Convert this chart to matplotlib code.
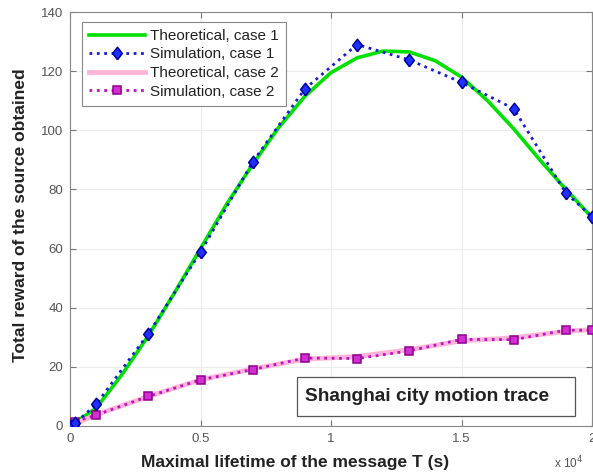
import matplotlib
matplotlib.use("Agg")
import matplotlib.pyplot as plt
from matplotlib.patches import Rectangle

plt.rcParams['font.family'] = ['Liberation Sans', 'DejaVu Sans']

# Data (x in units of 10^4 s)
x_theo1 = [0.0, 0.1, 0.2, 0.3, 0.4, 0.5, 0.6, 0.7, 0.8, 0.9, 1.0, 1.1, 1.2,
           1.3, 1.4, 1.5, 1.6, 1.7, 1.8, 1.9, 2.0]
y_theo1 = [0.0, 6.0, 17.5, 30.5, 45.0, 60.0, 75.0, 88.5, 101.0, 111.5, 119.5,
           124.5, 126.8, 126.5, 123.5, 118.0, 110.0, 100.5, 90.0, 80.0, 70.5]

x_sim = [0.0, 0.02, 0.1, 0.3, 0.5, 0.7, 0.9, 1.1, 1.3, 1.5, 1.7, 1.9, 2.0]
y_sim1 = [0.0, 1.0, 7.3, 31.2, 58.8, 89.3, 114.0, 129.0, 123.8, 116.2, 107.3, 78.8, 70.8]
y_sim2 = [0.0, 1.5, 3.7, 10.0, 15.6, 19.1, 23.0, 22.8, 25.4, 29.3, 29.2, 32.4, 32.4]

x_theo2 = [0.0, 0.1, 0.3, 0.5, 0.7, 0.9, 1.1, 1.3, 1.5, 1.7, 1.9, 2.0]
y_theo2 = [0.0, 3.8, 10.0, 15.6, 19.3, 22.6, 23.5, 25.8, 28.8, 29.8, 32.0, 32.6]

xticks = [0, 0.5, 1, 1.5, 2]
xticklabels = ['0', '0.5', '1', '1.5', '2']
yticks = [0, 20, 40, 60, 80, 100, 120, 140]

W, H = 593, 475
AX_L, AX_R, AX_T, AX_B = 70, 592, 12, 426
AW, AH = AX_R - AX_L, AX_B - AX_T
fig = plt.figure(figsize=(W / 100, H / 100), dpi=100)
ax = fig.add_axes([AX_L / W, (H - AX_B) / H, AW / W, AH / H])

diamond = [(0, -1), (0.78, 0), (0, 1), (-0.78, 0), (0, -1)]

ax.plot(x_theo1, y_theo1, color='#00e000', lw=2.6, label='Theoretical, case 1', zorder=2)
ax.plot(x_sim, y_sim1, color='#1a1ad0', lw=2.0, ls=':', marker=diamond, ms=9,
        mfc='#2030ff', mec='#0000a0', mew=1.1, label='Simulation, case 1', zorder=4)
ax.plot(x_theo2, y_theo2, color='#ffb4d8', lw=3.5, label='Theoretical, case 2', zorder=2)
ax.plot(x_sim, y_sim2, color='#c010c0', lw=2.0, ls=':', marker='s', ms=6,
        mfc='#d030d0', mec='#900090', mew=1.1, label='Simulation, case 2', zorder=3)

ax.set_xlim(0, 2)
ax.set_ylim(0, 140)
ax.set_xticks(xticks)
ax.set_xticklabels(xticklabels)
ax.set_yticks(yticks)
ax.tick_params(direction='in', labelsize=9.5, labelcolor='#555555', color='#777777',
               length=4, top=True, right=True, pad=5)
ax.grid(True, color='#ececec', lw=0.8)
ax.set_axisbelow(True)
for s in ax.spines.values():
    s.set_color('#888888')
    s.set_linewidth(0.8)

ax.set_xlabel('Maximal lifetime of the message T (s)', fontsize=12.5, fontweight='bold',
              color='#222222')
ax.xaxis.set_label_coords((295 - AX_L) / AW, (AX_B - 462) / AH)
ax.xaxis.label.set_va('center')
ax.set_ylabel('Total reward of the source obtained', fontsize=12.5, fontweight='bold',
              color='#222222')
ax.yaxis.set_label_coords((21 - AX_L) / AW, (AX_B - 215) / AH)
ax.yaxis.label.set_va('center')
fig.text(569 / W, 1 - 463 / H, r'x 10$^4$', fontsize=8.5, color='#555555',
         ha='center', va='center')

leg = ax.legend(loc='upper left', bbox_to_anchor=((82 - AX_L) / AW, (AX_B - 22) / AH),
                fontsize=11, frameon=True, fancybox=False, framealpha=1,
                edgecolor='#888888', handlelength=3.7, labelspacing=0.3,
                borderpad=0.45, handletextpad=0.3, borderaxespad=0)
leg.get_frame().set_linewidth(0.8)
for t in leg.get_texts():
    t.set_color('#222222')

# annotation box
bx0, bx1 = (297 - AX_L) / AW, (575 - AX_L) / AW
by0, by1 = (AX_B - 416) / AH, (AX_B - 377) / AH
ax.add_patch(Rectangle((bx0, by0), bx1 - bx0, by1 - by0, transform=ax.transAxes,
                       fill=True, facecolor='white', edgecolor='#555555', lw=0.9, zorder=5))
ax.text((305 - AX_L) / AW, (by0 + by1) / 2, 'Shanghai city motion trace', transform=ax.transAxes,
        fontsize=13.8, fontweight='bold', color='#222222', ha='left', va='center', zorder=6)

fig.savefig('out.png', dpi=100)
